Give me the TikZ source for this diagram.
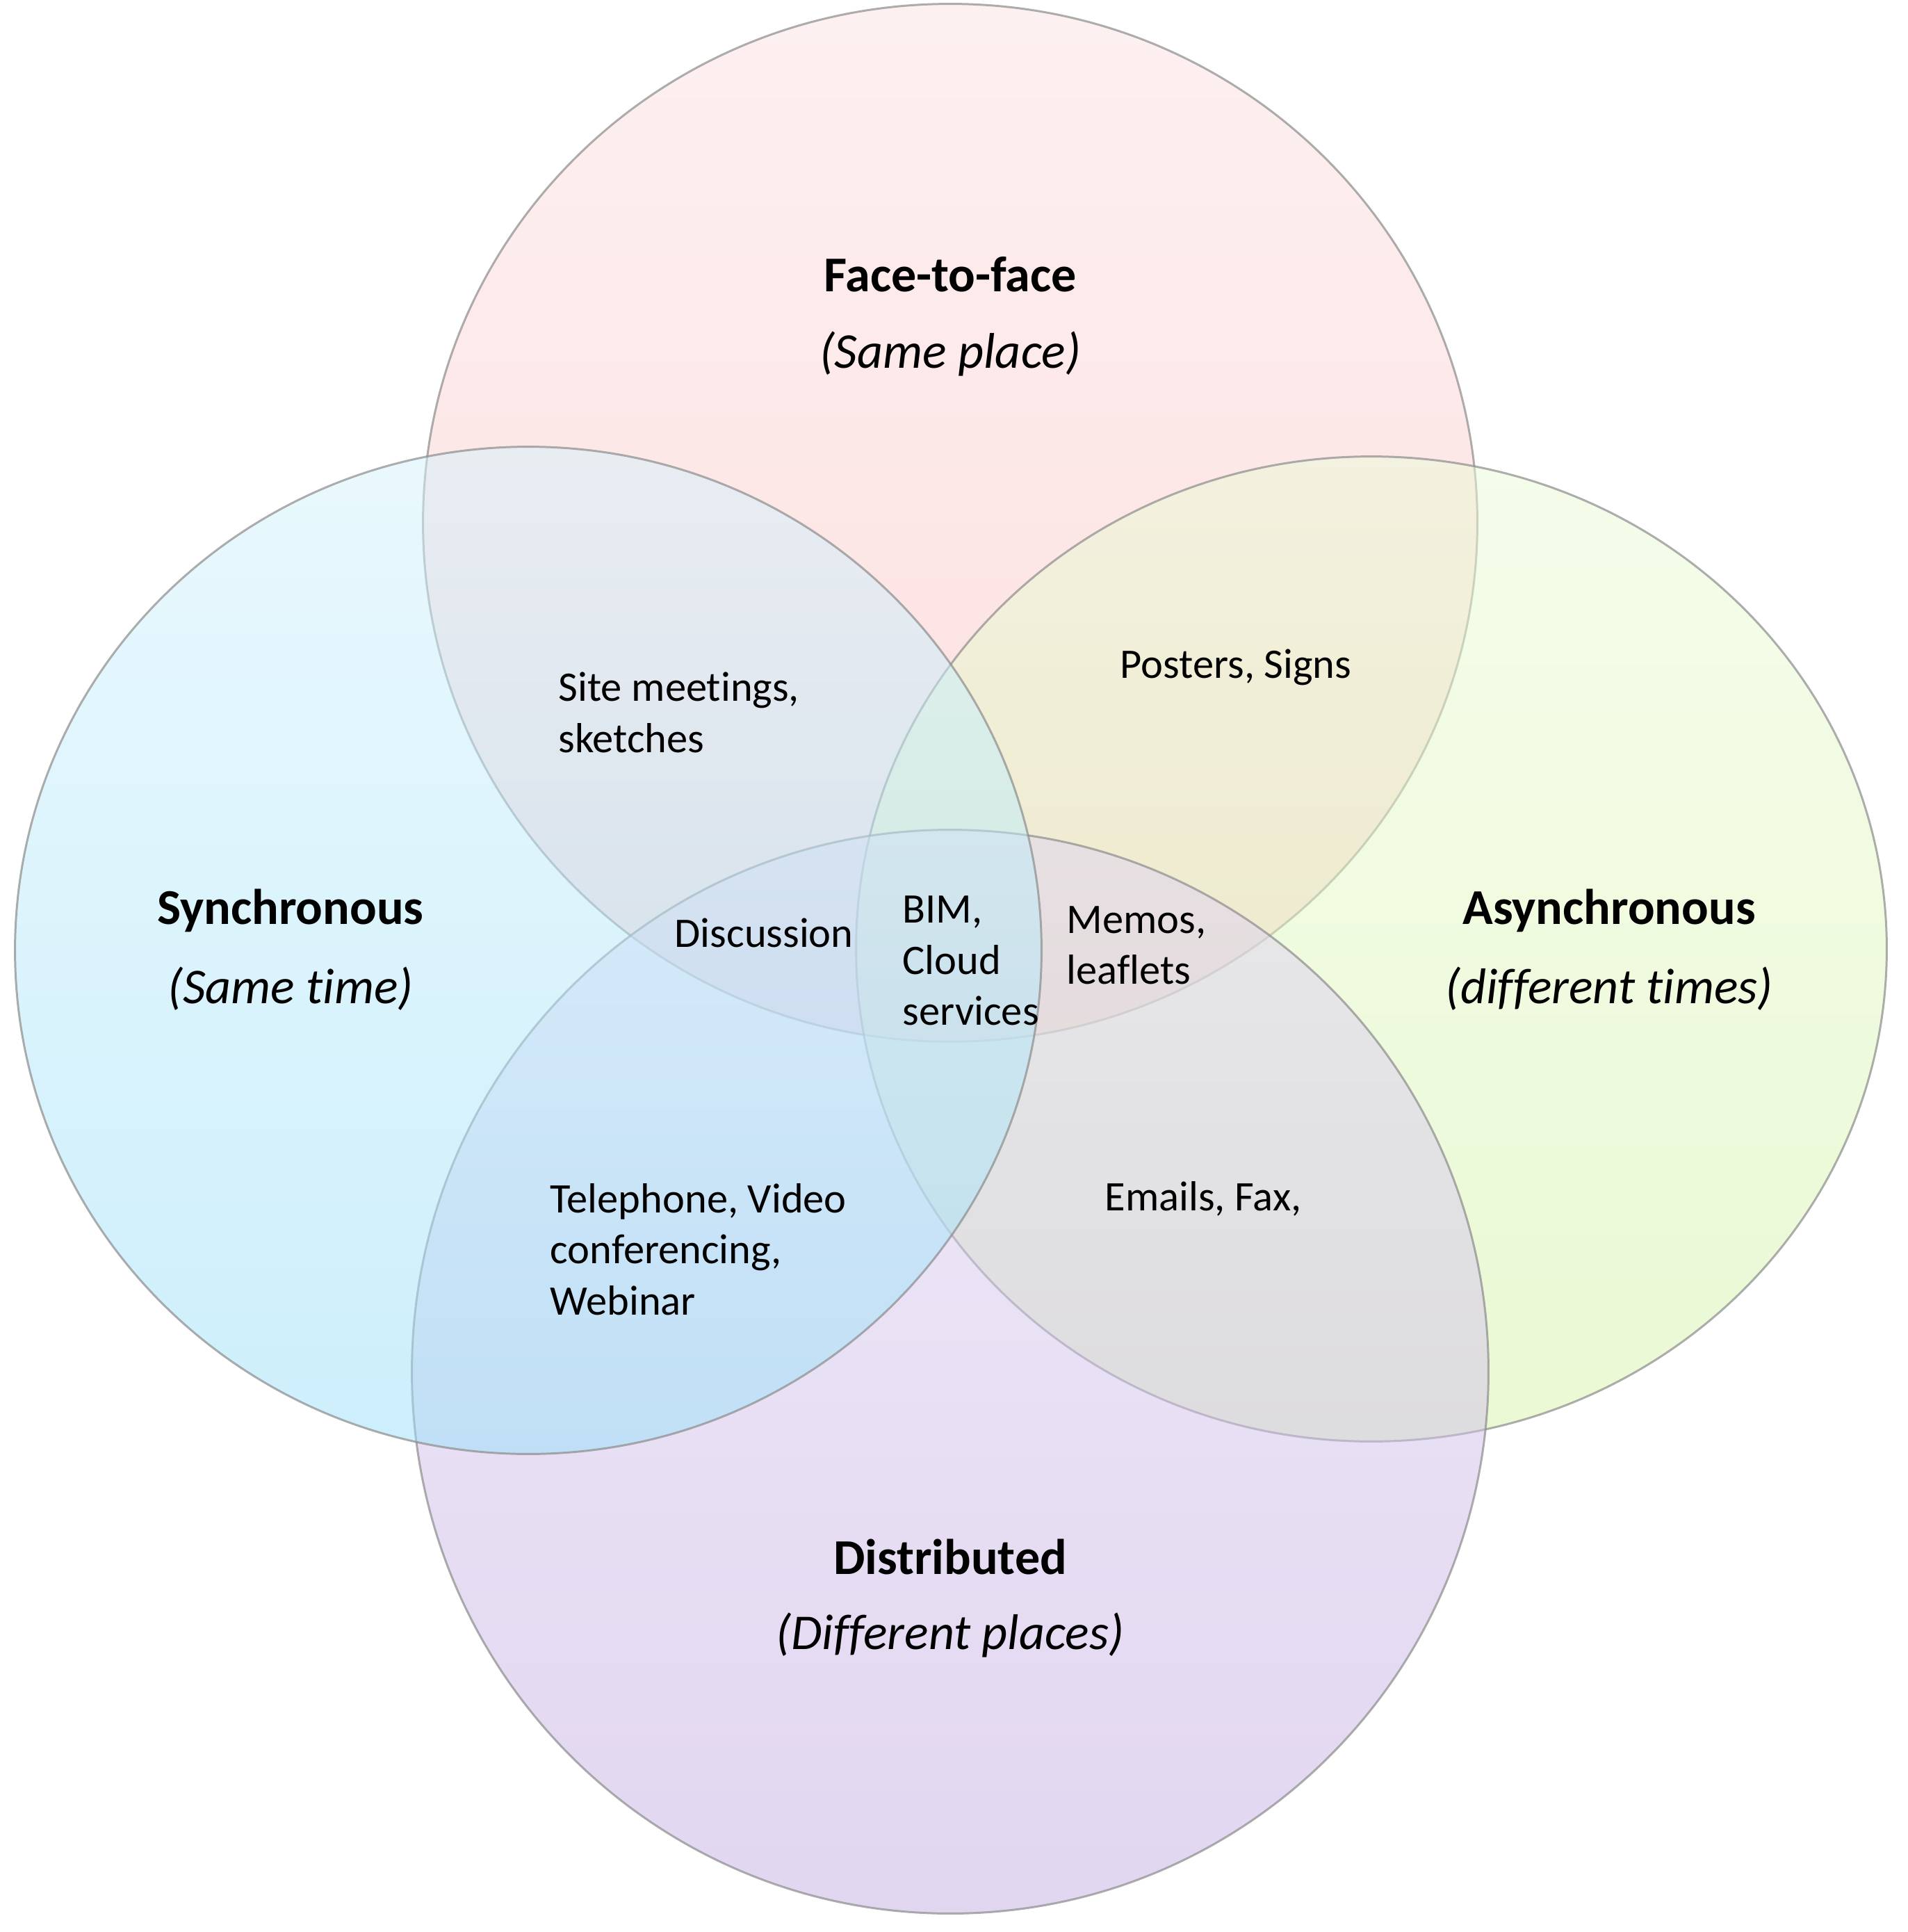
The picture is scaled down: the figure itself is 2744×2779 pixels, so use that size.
\documentclass[tikz,border=0pt]{standalone}
\usepackage{fontspec}
\setmainfont{Carlito}[Ligatures=NoCommon]
\definecolor{ringline}{RGB}{140,140,140}
\definecolor{pinkA}{RGB}{253,227,227}
\definecolor{pinkB}{RGB}{251,188,188}
\definecolor{cyanA}{RGB}{213,243,253}
\definecolor{cyanB}{RGB}{155,224,249}
\definecolor{greenA}{RGB}{235,251,215}
\definecolor{greenB}{RGB}{215,244,170}
\definecolor{lilacA}{RGB}{225,214,242}
\definecolor{lilacB}{RGB}{197,175,227}
\begin{document}
\begin{tikzpicture}[x=0.01cm,y=-0.01cm,
		ring/.style={draw=ringline,line width=0.85pt,fill opacity=0.5,draw opacity=0.7},
		head/.style={font=\fontsize{20.5}{24}\selectfont\bfseries,inner sep=0pt},
		sub/.style={font=\fontsize{20.5}{24}\selectfont\itshape,inner sep=0pt},
		item/.style={font=\fontsize{17.2}{20.9}\selectfont,align=left,anchor=west,inner sep=0pt}]
		\fill [white] (0,0) rectangle (2744,2779);
		\useasboundingbox (0,0) rectangle (2744,2779);
		% the four sets, drawn clockwise from the top
		\shade [ring,top color=pinkA,bottom color=pinkB]
			(1367,752) ellipse [x radius=7.58cm,y radius=7.46cm];
		\shade [ring,top color=greenA,bottom color=greenB]
			(1973,1365) ellipse [x radius=7.41cm,y radius=7.08cm];
		\shade [ring,top color=lilacA,bottom color=lilacB]
			(1367,1973) ellipse [x radius=7.74cm,y radius=7.79cm];
		\shade [ring,top color=cyanA,bottom color=cyanB]
			(760,1367) ellipse [x radius=7.38cm,y radius=7.24cm];
		% set names
		\node [head] (f2f) at (1367,395) {Face-to-face};
		\node [sub] (f2fsub) at (1367,509) {(Same place)};
		\node [head] (sync) at (418,1310) {Synchronous};
		\node [sub] (syncsub) at (418,1422) {(Same time)};
		\node [head] (async) at (2315,1310) {Asynchronous};
		\node [sub] (asyncsub) at (2315,1422) {(different times)};
		\node [head] (dist) at (1367,2239) {Distributed};
		\node [sub] (distsub) at (1367,2352) {(Different places)};
		% overlaps
		\node [item] (site) at (803,1025) {Site meetings,\\sketches};
		\node [item] (poster) at (1611,960) {Posters, Signs};
		\node [item] (talk) at (970,1342) {Discussion};
		\node [item] (bim) at (1298,1382) {BIM,\\Cloud\\services};
		\node [item] (memo) at (1534,1360) {Memos,\\leaflets};
		\node [item] (phone) at (791,1797) {Telephone, Video\\conferencing,\\Webinar};
		\node [item] (mail) at (1589,1724) {Emails, Fax,};
	\end{tikzpicture}
\end{document}
